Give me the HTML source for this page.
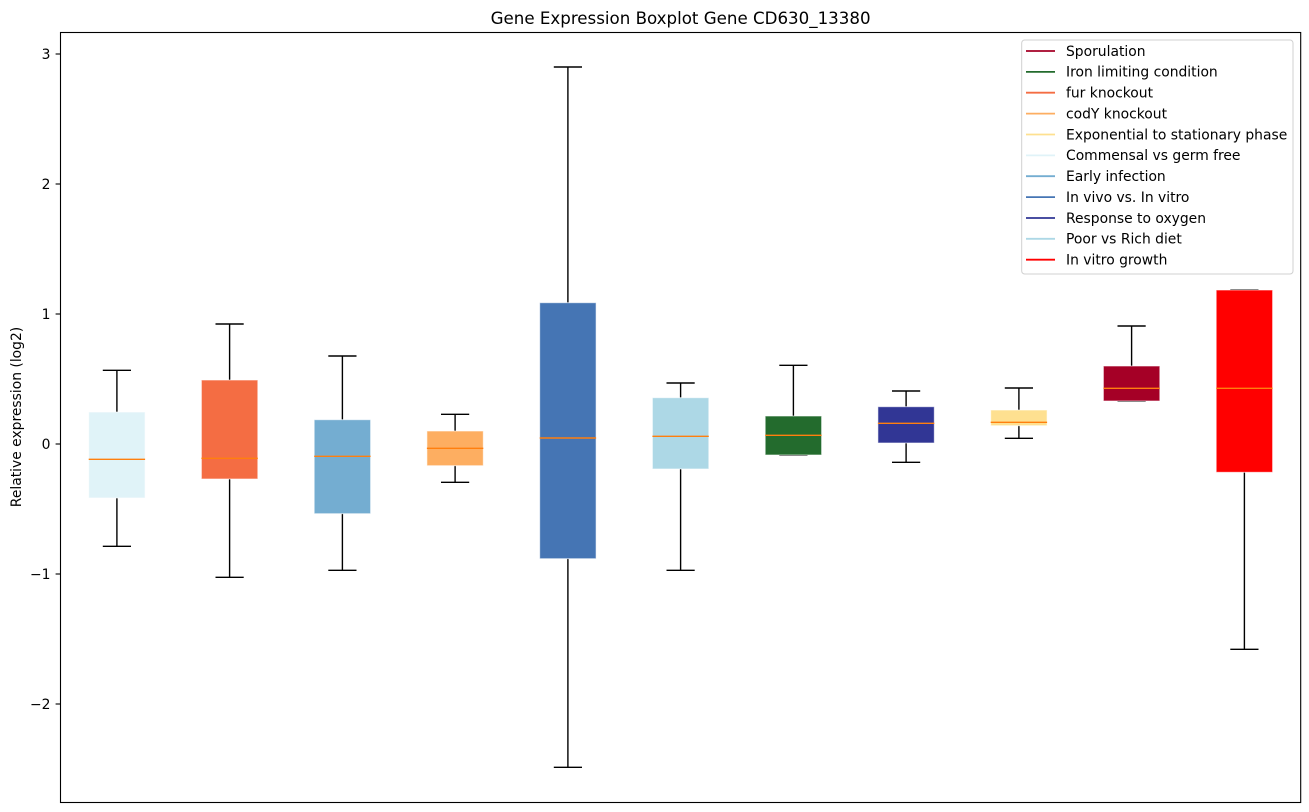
<!DOCTYPE html>
<html>
<head>
<meta charset="utf-8">
<style>
html,body{margin:0;padding:0;background:#fff;}
svg{display:block;}
text{font-family:"DejaVu Sans","Liberation Sans",sans-serif;fill:#000;}
</style>
</head>
<body>
<svg width="1309" height="812" viewBox="0 0 1309 812" xmlns="http://www.w3.org/2000/svg">
<rect x="0" y="0" width="1309" height="812" fill="#fff"/>

<!-- title -->
<text x="680.6" y="24" font-size="16.67" text-anchor="middle">Gene Expression Boxplot Gene CD630_13380</text>

<!-- y label -->
<text transform="translate(21,417) rotate(-90)" font-size="13.89" text-anchor="middle">Relative expression (log2)</text>

<!-- y ticks -->
<g stroke="#000" stroke-width="1.1">
<line x1="55.6" y1="54" x2="60.5" y2="54"/>
<line x1="55.6" y1="184" x2="60.5" y2="184"/>
<line x1="55.6" y1="314" x2="60.5" y2="314"/>
<line x1="55.6" y1="444" x2="60.5" y2="444"/>
<line x1="55.6" y1="574" x2="60.5" y2="574"/>
<line x1="55.6" y1="704" x2="60.5" y2="704"/>
</g>
<g font-size="13.89" text-anchor="end">
<text x="50.5" y="59">3</text>
<text x="50.5" y="189">2</text>
<text x="50.5" y="319">1</text>
<text x="50.5" y="449">0</text>
<text x="50.5" y="579">−1</text>
<text x="50.5" y="709">−2</text>
</g>

<!-- whiskers and caps -->
<g stroke="#000" stroke-width="1.4" fill="none">
<line x1="116.9" y1="370.3" x2="116.9" y2="412"/>
<line x1="116.9" y1="498" x2="116.9" y2="546.3"/>
<line x1="102.8" y1="370.3" x2="131" y2="370.3"/>
<line x1="102.8" y1="546.3" x2="131" y2="546.3"/>
<line x1="229.6" y1="324" x2="229.6" y2="380"/>
<line x1="229.6" y1="479" x2="229.6" y2="577.3"/>
<line x1="215.5" y1="324" x2="243.7" y2="324"/>
<line x1="215.5" y1="577.3" x2="243.7" y2="577.3"/>
<line x1="342.4" y1="356" x2="342.4" y2="419.7"/>
<line x1="342.4" y1="513.7" x2="342.4" y2="570.3"/>
<line x1="328.3" y1="356" x2="356.5" y2="356"/>
<line x1="328.3" y1="570.3" x2="356.5" y2="570.3"/>
<line x1="455.1" y1="414.3" x2="455.1" y2="431"/>
<line x1="455.1" y1="465.7" x2="455.1" y2="482.3"/>
<line x1="441" y1="414.3" x2="469.2" y2="414.3"/>
<line x1="441" y1="482.3" x2="469.2" y2="482.3"/>
<line x1="567.9" y1="67" x2="567.9" y2="302.7"/>
<line x1="567.9" y1="558.7" x2="567.9" y2="767.3"/>
<line x1="553.8" y1="67" x2="582" y2="67"/>
<line x1="553.8" y1="767.3" x2="582" y2="767.3"/>
<line x1="680.6" y1="383" x2="680.6" y2="397.7"/>
<line x1="680.6" y1="469" x2="680.6" y2="570.3"/>
<line x1="666.5" y1="383" x2="694.7" y2="383"/>
<line x1="666.5" y1="570.3" x2="694.7" y2="570.3"/>
<line x1="793.4" y1="365.3" x2="793.4" y2="416"/>
<line x1="779.3" y1="365.3" x2="807.5" y2="365.3"/>
<line x1="779.3" y1="455" x2="807.5" y2="455"/>
<line x1="906.1" y1="391" x2="906.1" y2="406.7"/>
<line x1="906.1" y1="443" x2="906.1" y2="462.3"/>
<line x1="892" y1="391" x2="920.2" y2="391"/>
<line x1="892" y1="462.3" x2="920.2" y2="462.3"/>
<line x1="1018.9" y1="388" x2="1018.9" y2="410"/>
<line x1="1018.9" y1="425.7" x2="1018.9" y2="438.3"/>
<line x1="1004.8" y1="388" x2="1033" y2="388"/>
<line x1="1004.8" y1="438.3" x2="1033" y2="438.3"/>
<line x1="1131.6" y1="326" x2="1131.6" y2="366"/>
<line x1="1117.5" y1="326" x2="1145.7" y2="326"/>
<line x1="1117.5" y1="401" x2="1145.7" y2="401"/>
<line x1="1244.4" y1="472.3" x2="1244.4" y2="649.3"/>
<line x1="1230.3" y1="290" x2="1258.5" y2="290"/>
<line x1="1230.3" y1="649.3" x2="1258.5" y2="649.3"/>
</g>

<g stroke="rgba(255,255,255,0.6)" stroke-width="1">
<rect x="88.7" y="412" width="56.4" height="86" fill="#e0f3f8"/>
<rect x="201.4" y="380" width="56.4" height="99" fill="#f46d43"/>
<rect x="314.2" y="419.7" width="56.4" height="94" fill="#74add1"/>
<rect x="426.9" y="431" width="56.4" height="34.7" fill="#fdae61"/>
<rect x="539.7" y="302.7" width="56.4" height="256" fill="#4575b4"/>
<rect x="652.4" y="397.7" width="56.4" height="71.3" fill="#add8e6"/>
<rect x="765.2" y="416" width="56.4" height="39" fill="#236b2d"/>
<rect x="877.9" y="406.7" width="56.4" height="36.3" fill="#313695"/>
<rect x="990.7" y="410" width="56.4" height="15.7" fill="#fee090"/>
<rect x="1103.4" y="366" width="56.4" height="35" fill="#a50026"/>
<rect x="1216.2" y="290" width="56.4" height="182.3" fill="#ff0000"/>
</g>

<!-- medians -->
<g stroke="#ff7f0e" stroke-width="1.4">
<line x1="88.7" y1="459.3" x2="145.1" y2="459.3"/>
<line x1="201.4" y1="458.3" x2="257.8" y2="458.3"/>
<line x1="314.2" y1="456.3" x2="370.6" y2="456.3"/>
<line x1="426.9" y1="448.3" x2="483.3" y2="448.3"/>
<line x1="539.7" y1="438" x2="596.1" y2="438"/>
<line x1="652.4" y1="436.3" x2="708.8" y2="436.3"/>
<line x1="765.2" y1="435.3" x2="821.6" y2="435.3"/>
<line x1="877.9" y1="423.3" x2="934.3" y2="423.3"/>
<line x1="990.7" y1="422.3" x2="1047.1" y2="422.3"/>
<line x1="1103.4" y1="388.3" x2="1159.8" y2="388.3"/>
<line x1="1216.2" y1="388.3" x2="1272.6" y2="388.3"/>
</g>

<!-- axes frame -->
<rect x="60.5" y="32.5" width="1240.2" height="770" fill="none" stroke="#000" stroke-width="1.1"/>

<!-- legend -->
<rect x="1021.7" y="40" width="271.3" height="234" rx="3" ry="3" fill="rgba(255,255,255,0.8)" stroke="#d0d0d0" stroke-width="1"/>
<g stroke-width="1.8">
<line x1="1026" y1="51" x2="1055" y2="51" stroke="#a50026"/>
<line x1="1026" y1="71.9" x2="1055" y2="71.9" stroke="#236b2d"/>
<line x1="1026" y1="92.7" x2="1055" y2="92.7" stroke="#f46d43"/>
<line x1="1026" y1="113.6" x2="1055" y2="113.6" stroke="#fdae61"/>
<line x1="1026" y1="134.5" x2="1055" y2="134.5" stroke="#fee090"/>
<line x1="1026" y1="155.4" x2="1055" y2="155.4" stroke="#e0f3f8"/>
<line x1="1026" y1="176.2" x2="1055" y2="176.2" stroke="#74add1"/>
<line x1="1026" y1="197.1" x2="1055" y2="197.1" stroke="#4575b4"/>
<line x1="1026" y1="218" x2="1055" y2="218" stroke="#313695"/>
<line x1="1026" y1="238.8" x2="1055" y2="238.8" stroke="#add8e6"/>
<line x1="1026" y1="259.7" x2="1055" y2="259.7" stroke="#ff0000"/>
</g>
<g font-size="13.89">
<text x="1066" y="55.8">Sporulation</text>
<text x="1066" y="76.7">Iron limiting condition</text>
<text x="1066" y="97.5">fur knockout</text>
<text x="1066" y="118.4">codY knockout</text>
<text x="1066" y="139.3">Exponential to stationary phase</text>
<text x="1066" y="160.2">Commensal vs germ free</text>
<text x="1066" y="181">Early infection</text>
<text x="1066" y="201.9">In vivo vs. In vitro</text>
<text x="1066" y="222.8">Response to oxygen</text>
<text x="1066" y="243.6">Poor vs Rich diet</text>
<text x="1066" y="264.5">In vitro growth</text>
</g>
</svg>
</body>
</html>
